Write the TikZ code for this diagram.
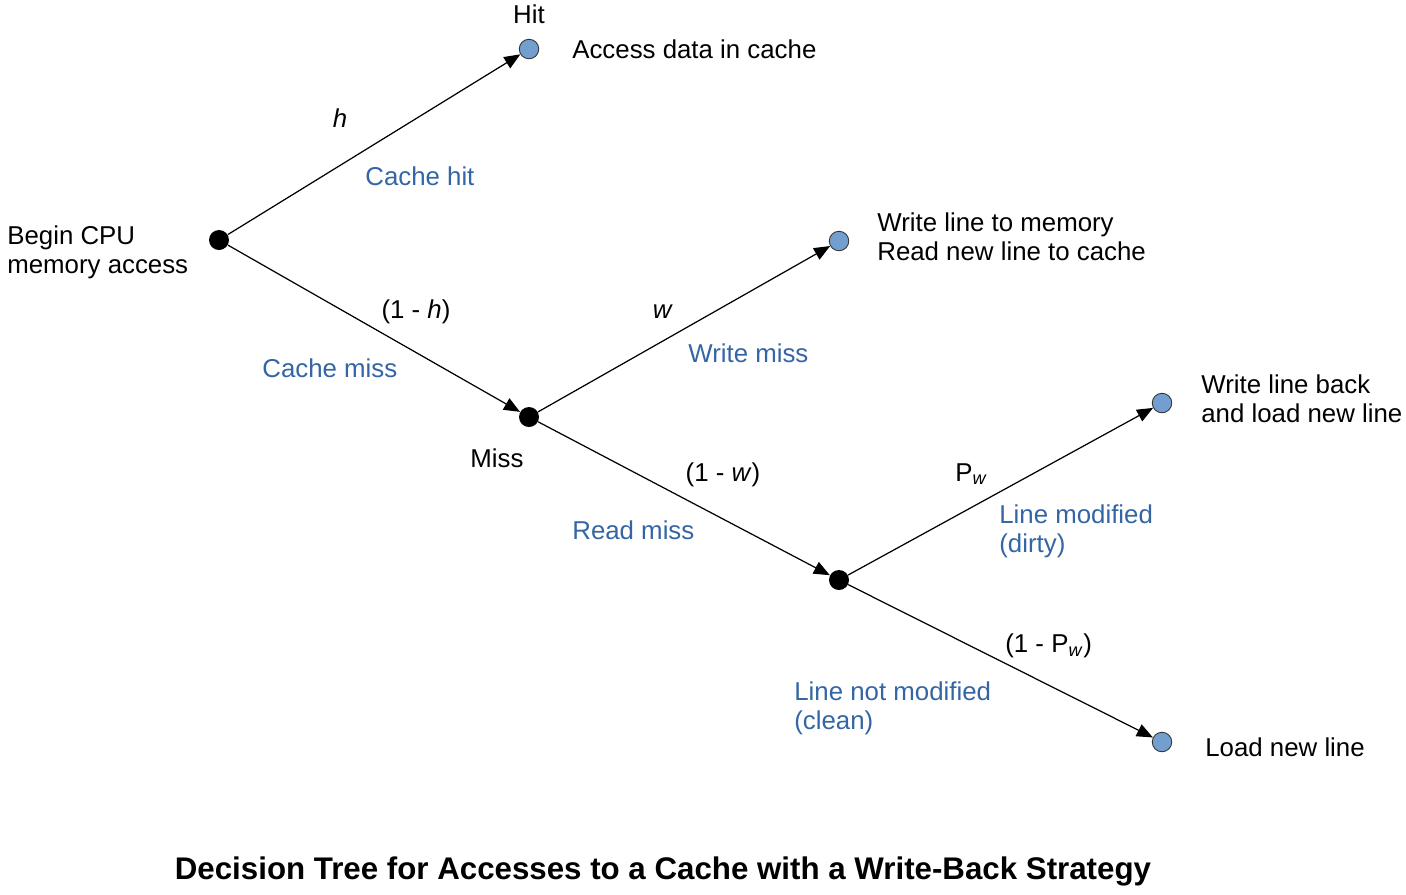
\documentclass[tikz,border=0pt]{standalone}
\usepackage{fontspec}
\setmainfont{Liberation Sans}
\usetikzlibrary{arrows.meta}
\definecolor{leafblue}{RGB}{114,159,207}
\definecolor{labelblue}{RGB}{52,101,164}
\tikzset{
  choice/.style={circle,fill=black,inner sep=0pt,minimum size=0.4cm},
  leaf/.style={circle,draw=black!80,line width=0.5pt,fill=leafblue,inner sep=0pt,minimum size=0.39cm},
  branch/.style={line width=0.7pt,-{Triangle[length=0.32cm,width=0.26cm]}},
  txt/.style={font=\fontsize{14.7}{16.5}\selectfont,inner sep=0pt,align=left},
  case/.style={txt,text=labelblue}
}
\begin{document}
\begin{tikzpicture}[x=0.02cm,y=-0.02cm]
    \useasboundingbox (0,0) rectangle (1406,894);
    % decision points and outcomes
    \node[choice] (root) at (219,240) {};
    \node[choice] (miss) at (529,417) {};
    \node[choice] (readmiss) at (839,580) {};
    \node[leaf] (hit) at (529,49) {};
    \node[leaf] (writemiss) at (839,241) {};
    \node[leaf] (dirty) at (1162,403) {};
    \node[leaf] (clean) at (1162,742) {};
    % branches
    \draw[branch] (root) -- (hit);
    \draw[branch] (root) -- (miss);
    \draw[branch] (miss) -- (writemiss);
    \draw[branch] (miss) -- (readmiss);
    \draw[branch] (readmiss) -- (dirty);
    \draw[branch] (readmiss) -- (clean);
    % texts
    \node[txt,anchor=west] (begin) at (7,252) {Begin CPU\\memory access};
    \node[txt] (hitlbl) at (529,14) {Hit};
    \node[txt,anchor=west] (hitout) at (572,49) {Access data in cache};
    \node[txt] (missl) at (497,458) {Miss};
    \node[txt,anchor=west] (wmout) at (877,237) {Write line to memory\\Read new line to cache};
    \node[txt,anchor=west] (dirtyout) at (1201,399) {Write line back\\and load new line};
    \node[txt,anchor=west] (cleanout) at (1205,747) {Load new line};
    % probabilities
    \node[txt] (ph) at (340,118) {\textit{h}};
    \node[txt] (pnh) at (416,312) {(1 - \textit{h})};
    \node[txt] (pw) at (663,312) {\textit{w}};
    \node[txt] (pnw) at (723,475) {(1 - \textit{w})};
    \node[txt,anchor=west] (pd) at (955,474) {P\textsubscript{\textit{w}}};
    \node[txt,anchor=west] (pnd) at (1005,646) {(1 - P\textsubscript{\textit{w}})};
    % cases
    \node[case,anchor=west] (c1) at (365,176) {Cache hit};
    \node[case,anchor=west] (c2) at (262,368) {Cache miss};
    \node[case,anchor=west] (c3) at (688,353) {Write miss};
    \node[case,anchor=west] (c4) at (572,530) {Read miss};
    \node[case,anchor=west] (c5) at (999,531) {Line modified\\(dirty)};
    \node[case,anchor=west] (c6) at (794,708) {Line not modified\\(clean)};
    \node[txt,font=\fontsize{17.8}{20}\selectfont\bfseries] (title) at (663,871) {Decision Tree for Accesses to a Cache with a Write-Back Strategy};
\end{tikzpicture}
\end{document}
